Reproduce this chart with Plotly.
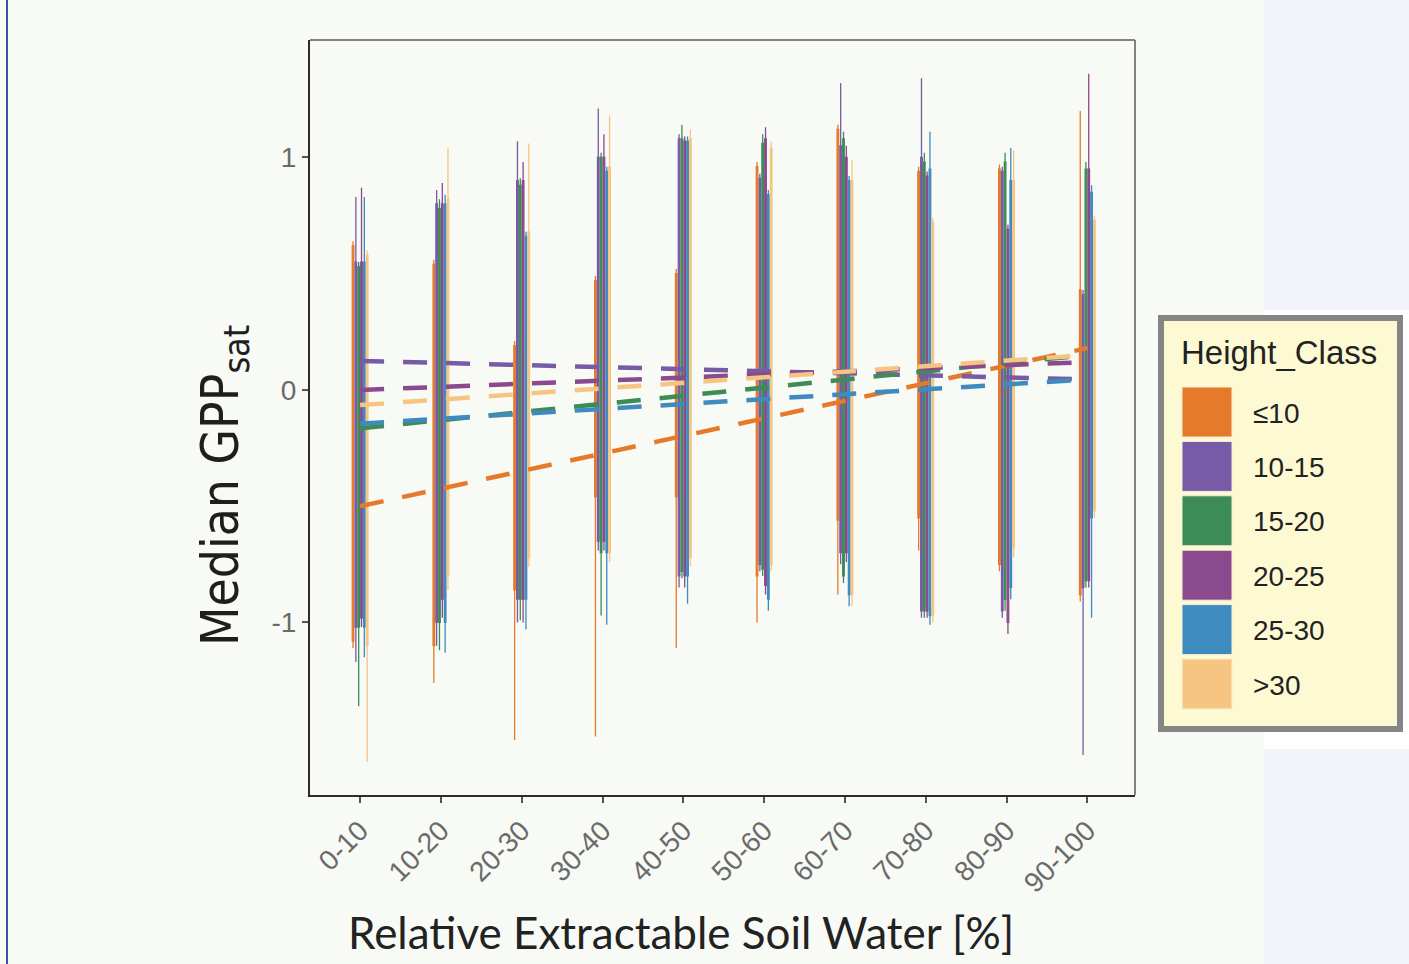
import plotly.graph_objects as go

# ---------------- data ----------------
categories = ["0-10", "10-20", "20-30", "30-40", "40-50",
              "50-60", "60-70", "70-80", "80-90", "90-100"]
classes = ["≤10", "10-15", "15-20", "20-25", "25-30", ">30"]
colors = ["#E67A2B", "#775BA6", "#3E8C55", "#8B4A8E", "#3E8BBF", "#F7C582"]

# one row per height class, one value per soil-water category
upper = [
    [0.64, 0.56, 0.21, 0.49, 0.52, 0.98, 1.14, 0.96, 0.97, 1.20],
    [0.83, 0.86, 1.07, 1.21, 1.10, 0.93, 1.32, 1.34, 0.96, 0.43],
    [0.55, 0.82, 0.91, 1.02, 1.14, 1.10, 1.11, 1.02, 1.02, 0.98],
    [0.87, 0.89, 0.98, 1.10, 1.09, 1.13, 1.05, 0.94, 0.71, 1.36],
    [0.83, 0.84, 0.68, 0.96, 1.09, 0.86, 0.92, 1.11, 1.04, 0.88],
    [0.60, 1.04, 1.06, 1.18, 1.12, 1.07, 0.99, 0.74, 1.03, 0.75],
]
q3 = [
    [0.62, 0.54, 0.19, 0.47, 0.50, 0.96, 1.12, 0.94, 0.95, 0.43],
    [0.55, 0.80, 0.90, 1.00, 1.08, 0.91, 1.05, 1.00, 0.94, 0.41],
    [0.53, 0.78, 0.88, 1.00, 1.08, 1.06, 1.08, 0.98, 0.98, 0.95],
    [0.55, 0.80, 0.90, 1.00, 1.07, 1.08, 1.00, 0.92, 0.69, 0.95],
    [0.55, 0.80, 0.66, 0.94, 1.07, 0.84, 0.90, 0.95, 0.90, 0.85],
    [0.58, 0.82, 0.68, 0.96, 1.08, 1.04, 0.90, 0.72, 0.90, 0.73],
]
median = [
    [-0.45, -0.45, -0.35, -0.25, -0.20, -0.15, -0.10, 0.00, 0.10, 0.18],
    [0.12, 0.10, 0.10, 0.10, 0.08, 0.07, 0.07, 0.06, 0.06, 0.05],
    [-0.20, -0.10, -0.10, -0.05, -0.02, 0.02, 0.05, 0.08, 0.12, 0.15],
    [0.00, 0.00, 0.05, 0.05, 0.06, 0.07, 0.08, 0.09, 0.11, 0.12],
    [-0.15, -0.10, -0.10, -0.05, -0.05, -0.03, -0.02, 0.02, 0.04, 0.05],
    [-0.05, -0.05, 0.00, 0.00, 0.04, 0.06, 0.08, 0.10, 0.13, 0.15],
]
q1 = [
    [-1.08, -1.10, -0.86, -0.46, -0.46, -0.80, -0.56, -0.55, -0.75, -0.88],
    [-1.02, -1.00, -0.90, -0.65, -0.80, -0.75, -0.70, -0.95, -0.95, -0.85],
    [-1.02, -1.00, -0.90, -0.70, -0.78, -0.77, -0.80, -0.95, -0.90, -0.82],
    [-0.98, -0.90, -0.90, -0.65, -0.80, -0.84, -0.70, -0.95, -1.00, -0.82],
    [-1.02, -1.00, -0.90, -0.70, -0.80, -0.90, -0.88, -0.97, -0.85, -0.55],
    [-1.10, -0.80, -0.72, -0.70, -0.72, -0.75, -0.88, -0.97, -0.68, -0.52],
]
lower = [
    [-1.11, -1.26, -1.505, -1.49, -1.11, -1.00, -0.88, -0.69, -0.78, -0.91],
    [-1.17, -1.10, -1.00, -0.69, -0.85, -0.78, -0.75, -0.98, -0.98, -1.57],
    [-1.36, -1.12, -0.99, -0.97, -0.81, -0.80, -0.83, -0.98, -0.95, -0.85],
    [-1.02, -0.98, -1.00, -0.69, -0.85, -0.88, -0.74, -0.98, -1.05, -0.85],
    [-1.15, -1.13, -1.03, -1.01, -0.92, -0.95, -0.93, -1.01, -0.90, -0.98],
    [-1.60, -0.86, -0.76, -0.74, -0.76, -0.78, -0.93, -1.00, -0.72, -0.55],
]
# dashed trend lines: value at first and at last category
trend_start = [-0.50, 0.125, -0.165, 0.00, -0.145, -0.065]
trend_end = [0.18, 0.045, 0.15, 0.12, 0.045, 0.15]

y_ticks = [-1, 0, 1]
y_ticklabels = ["-1", "0", "1"]

# ---------------- geometry ----------------
W, H = 1409, 964
L, R, T, B = 310, 1135, 40, 795
BG = "#f8faf6"


def px(xpix):
    return (xpix - L) / (R - L)


def py(ypix):
    return (B - ypix) / (B - T)


fig = go.Figure()

for i, cls in enumerate(classes):
    fig.add_trace(go.Box(
        x=categories, q1=q1[i], median=median[i], q3=q3[i],
        lowerfence=lower[i], upperfence=upper[i],
        name=cls, marker_color=colors[i], fillcolor=colors[i],
        line=dict(color=colors[i], width=1.3),
        whiskerwidth=0, boxpoints=False, hoverinfo="skip",
        showlegend=False,
    ))

for i, cls in enumerate(classes):
    fig.add_trace(go.Scatter(
        x=[categories[0], categories[-1]], y=[trend_start[i], trend_end[i]],
        mode="lines", line=dict(color=colors[i], width=4.5, dash="24px,19px"),
        hoverinfo="skip", showlegend=False,
    ))

axis_font = dict(family="Liberation Sans, Arial, sans-serif", size=28, color="#6a6a6a")

fig.update_layout(
    width=W, height=H,
    margin=dict(l=L, r=W - R, t=T, b=H - B, pad=0),
    paper_bgcolor=BG, plot_bgcolor=BG,
    boxmode="group", boxgap=0.79, boxgroupgap=0.45,
    showlegend=False,
    xaxis=dict(
        type="category", categoryorder="array", categoryarray=categories,
        range=[-0.62, 9.59], showgrid=False, zeroline=False,
        showline=True, linecolor="#2b2b2b", linewidth=2,
        ticks="outside", ticklen=6, tickwidth=1.5, tickcolor="#555",
        tickangle=-45, tickfont=axis_font,
    ),
    yaxis=dict(
        range=[-1.742, 1.505], showgrid=False, zeroline=False,
        showline=True, linecolor="#2b2b2b", linewidth=2,
        ticks="outside", ticklen=6, tickwidth=1.5, tickcolor="#555",
        tickvals=y_ticks, ticktext=y_ticklabels, tickfont=axis_font,
    ),
)

shapes = []
# page decorations
shapes.append(dict(type="line", xref="paper", yref="paper", x0=px(7), x1=px(7),
                   y0=py(0), y1=py(H), line=dict(color="#3356a3", width=2), layer="below"))
shapes.append(dict(type="rect", xref="paper", yref="paper", x0=px(1264), x1=px(W),
                   y0=py(0), y1=py(310), fillcolor="#f1f4f9", line=dict(width=0), layer="below"))
shapes.append(dict(type="rect", xref="paper", yref="paper", x0=px(1264), x1=px(W),
                   y0=py(310), y1=py(749), fillcolor="#ffffff", line=dict(width=0), layer="below"))
shapes.append(dict(type="rect", xref="paper", yref="paper", x0=px(1264), x1=px(W),
                   y0=py(749), y1=py(H), fillcolor="#f1f4f9", line=dict(width=0), layer="below"))
# top and right frame
shapes.append(dict(type="line", xref="paper", yref="paper", x0=0, x1=1, y0=1, y1=1,
                   line=dict(color="#5a5a5a", width=1.5)))
shapes.append(dict(type="line", xref="paper", yref="paper", x0=1, x1=1, y0=0, y1=1,
                   line=dict(color="#5a5a5a", width=1.5)))
# custom legend box
shapes.append(dict(type="rect", xref="paper", yref="paper", x0=px(1161), x1=px(1400),
                   y0=py(318), y1=py(729), fillcolor="#fdf9d2",
                   line=dict(color="#858585", width=6), layer="above"))

annotations = []
annotations.append(dict(text="Height_Class", xref="paper", yref="paper",
                        x=px(1179), y=py(352), xanchor="left", yanchor="middle",
                        showarrow=False,
                        font=dict(family="Liberation Sans, Arial, sans-serif", size=33, color="#222")))
for i, cls in enumerate(classes):
    top = 387 + 54.4 * i
    shapes.append(dict(type="rect", xref="paper", yref="paper", x0=px(1182), x1=px(1232),
                       y0=py(top), y1=py(top + 50), fillcolor=colors[i],
                       line=dict(color="#f4f0d8", width=1), layer="above"))
    annotations.append(dict(text=cls, xref="paper", yref="paper",
                            x=px(1251), y=py(top + 26), xanchor="left", yanchor="middle",
                            showarrow=False,
                            font=dict(family="Liberation Sans, Arial, sans-serif", size=28, color="#222")))

# axis titles
annotations.append(dict(text="Median GPP<sub>sat</sub>", xref="paper", yref="paper",
                        x=px(224), y=py(486), textangle=-90, showarrow=False,
                        xanchor="center", yanchor="middle",
                        font=dict(family="Liberation Sans Narrow, DejaVu Sans Condensed, Arial Narrow, sans-serif",
                                  size=51, color="#1e1e1e")))
annotations.append(dict(text="Relative Extractable Soil Water [%]", xref="paper", yref="paper",
                        x=px(681), y=py(932), showarrow=False,
                        xanchor="center", yanchor="middle",
                        font=dict(family="Lato, Open Sans, sans-serif", size=44, color="#222")))

fig.update_layout(shapes=shapes, annotations=annotations)

fig.write_html("out.html")
